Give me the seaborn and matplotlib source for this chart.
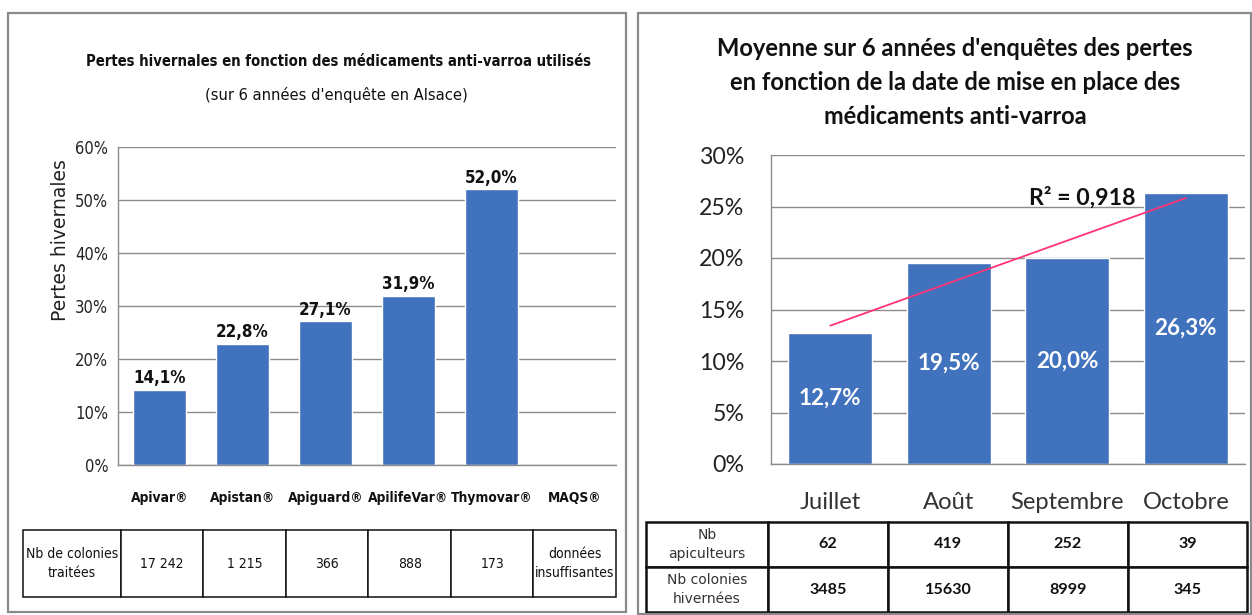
import numpy as np
import pandas as pd
import matplotlib
matplotlib.use("Agg")
import matplotlib.pyplot as plt
from matplotlib import font_manager
from matplotlib.ticker import MultipleLocator, FixedLocator, FuncFormatter
from matplotlib.patches import Rectangle
from matplotlib.container import BarContainer
import seaborn as sns

# ---------------- data ----------------
left_title = "Pertes hivernales en fonction des médicaments anti-varroa utilisés"
left_subtitle = "(sur 6 années d'enquête en Alsace)"
left_ylabel = "Pertes hivernales"
products = ["Apivar®", "Apistan®", "Apiguard®", "ApilifeVar®", "Thymovar®", "MAQS®"]
product_losses = [14.1, 22.8, 27.1, 31.9, 52.0, np.nan]
left_table_header = "Nb de colonies\ntraitées"
left_table_values = ["17 242", "1 215", "366", "888", "173", "données\ninsuffisantes"]

right_title_lines = ["Moyenne sur 6 années d'enquêtes des pertes",
                     "en fonction de la date de mise en place des",
                     "médicaments anti-varroa"]
months = ["Juillet", "Août", "Septembre", "Octobre"]
month_losses = [12.7, 19.5, 20.0, 26.3]
r2_label = "R² = 0,918"
right_row_headers = ["Nb\napiculteurs", "Nb colonies\nhivernées"]
nb_apiculteurs = ["62", "419", "252", "39"]
nb_colonies = ["3485", "15630", "8999", "345"]

# ---------------- style ----------------
sns.set_theme(style="white")
ttf = font_manager.fontManager.ttflist
names = {f.name for f in ttf}
cond = [f for f in ttf if ("Narrow" in f.name or "Condensed" in f.name
                            or str(f.stretch) in ("condensed", "semi-condensed", "extra-condensed"))]
if cond:
    NARROW = cond[0].name
    NSTRETCH = "condensed"
else:
    NARROW = "Roboto" if "Roboto" in names else "Liberation Sans"
    NSTRETCH = "normal"
CAL = "Lato" if "Lato" in names else "DejaVu Sans"
plt.rcParams["font.family"] = [CAL, "DejaVu Sans"]

W, H = 1252, 615
fig = plt.figure(figsize=(W / 100, H / 100), dpi=100)
fig.patch.set_facecolor("white")
renderer = fig.canvas.get_renderer()
NF = dict(family=NARROW, fontstretch=NSTRETCH)


def fit(s, target_px, **kw):
    """font size (pt) giving the text s roughly the reference's pixel width"""
    t = fig.text(0, 0, s, fontsize=10, **kw)
    w = t.get_window_extent(renderer).width
    t.remove()
    return 10 * target_px / w


title_fs = fit(left_title, 500, fontweight="bold", **NF)
sub_fs = fit(left_subtitle, 262, **NF)
xlab_fs = fit("ApilifeVar®", 80, fontweight="bold", **NF)
ytick_fs = fit("60%", 33, **NF)
val_fs = fit("52,0%", 53, fontweight="bold", **NF)
tab_fs = fit("Nb de colonies", 92, **NF)
rtitle_fs = fit(right_title_lines[0], 480, fontweight="bold")
ck = rtitle_fs / 17.0

BAR = "#4172BD"
GRID = "#8c8c8c"


def fbox(x0, y_top, x1, y_bot):
    return [x0 / W, 1 - y_bot / H, (x1 - x0) / W, (y_bot - y_top) / H]


# panel frames
fig.patches.append(Rectangle((8 / W, 1 - 612 / H), (626 - 8) / W, (612 - 13) / H,
                             transform=fig.transFigure, fill=False, ec="#8a8a8a", lw=1.6))
fig.patches.append(Rectangle((638 / W, 1 - 614 / H), (1251 - 638) / W, (614 - 13) / H,
                             transform=fig.transFigure, fill=False, ec="#8a8a8a", lw=1.6))

pct = FuncFormatter(lambda v, p: f"{int(round(v))}%")

# ---------------- left chart ----------------
ax1 = fig.add_axes(fbox(118, 147, 616, 465))
df1 = pd.DataFrame({"produit": products, "pertes": product_losses})
sns.barplot(data=df1, x="produit", y="pertes", order=products, color=BAR,
            saturation=1, width=0.65, ax=ax1)
ax1.set_xlim(-0.5, len(products) - 0.5)
ax1.set_ylim(0, 60)
ax1.yaxis.set_major_locator(MultipleLocator(10))
ax1.yaxis.set_major_formatter(pct)
ax1.yaxis.grid(True, color=GRID, lw=1)
ax1.set_axisbelow(True)
for s in ["top", "right"]:
    ax1.spines[s].set_visible(False)
for s in ["left", "bottom"]:
    ax1.spines[s].set_color(GRID)
    ax1.spines[s].set_linewidth(1)
ax1.set_xlabel("")
ax1.set_ylabel(left_ylabel, family="DejaVu Sans", fontsize=13.5, color="#222222")
ax1.yaxis.set_label_coords((70 - 118) / 498, (465 - 240) / 318)
ax1.tick_params(axis="y", length=4, color=GRID, pad=3, labelcolor="#222222")
ax1.tick_params(axis="x", which="major", length=0, pad=19)
ax1.xaxis.set_minor_locator(FixedLocator(np.arange(-0.5, len(products), 1)))
ax1.tick_params(axis="x", which="minor", length=5, color=GRID)
for lab in ax1.get_yticklabels():
    lab.set_family(NARROW)
    lab.set_stretch(NSTRETCH)
    lab.set_fontsize(ytick_fs)
for lab in ax1.get_xticklabels():
    lab.set_family(NARROW)
    lab.set_stretch(NSTRETCH)
    lab.set_fontweight("bold")
    lab.set_fontsize(xlab_fs)
    lab.set_color("#111111")
valid_bars = [p for p in ax1.patches if isinstance(p, Rectangle)]
valid_vals = [v for v in product_losses if not np.isnan(v)]
labels1 = [f"{v:.1f}%".replace(".", ",") for v in valid_vals]
ax1.bar_label(BarContainer(valid_bars, datavalues=valid_vals, orientation="vertical"),
              labels=labels1, padding=2, fontweight="bold", fontsize=val_fs,
              color="#111111", **NF)

fig.text(338 / W, 1 - 61 / H, left_title, ha="center", va="center",
         fontweight="bold", fontsize=title_fs, color="#111111", **NF)
fig.text(336 / W, 1 - 95 / H, left_subtitle, ha="center", va="center",
         fontsize=sub_fs, color="#111111", **NF)

# left table
x0t, x1t = 23, 616
yt, yb = 530, 597
ax_w, ax_h = 616 - 118, 465 - 147
bbox1 = [(x0t - 118) / ax_w, (465 - yb) / ax_h, (x1t - x0t) / ax_w, (yb - yt) / ax_h]
tab1 = ax1.table(cellText=[[left_table_header] + left_table_values],
                 colWidths=[98] + [(x1t - 121) / 6] * 6, cellLoc="center", bbox=bbox1)
tab1.auto_set_font_size(False)
for (r, c), cell in tab1.get_celld().items():
    cell.set_linewidth(1.1)
    cell.set_edgecolor("#111111")
    t = cell.get_text()
    t.set_family(NARROW)
    t.set_stretch(NSTRETCH)
    t.set_fontsize(tab_fs)
    t.set_color("#111111")
    t.set_linespacing(1.5)

# ---------------- right chart ----------------
ax2 = fig.add_axes(fbox(771, 155, 1245, 464))
df2 = pd.DataFrame({"mois": months, "pertes": month_losses})
sns.barplot(data=df2, x="mois", y="pertes", order=months, color=BAR,
            saturation=1, width=0.71, ax=ax2)
ax2.set_xlim(-0.5, len(months) - 0.5)
ax2.set_ylim(0, 30)
ax2.yaxis.set_major_locator(MultipleLocator(5))
ax2.yaxis.set_major_formatter(pct)
ax2.yaxis.grid(True, color=GRID, lw=1)
ax2.set_axisbelow(True)
for s in ["top", "right"]:
    ax2.spines[s].set_visible(False)
for s in ["left", "bottom"]:
    ax2.spines[s].set_color(GRID)
    ax2.spines[s].set_linewidth(1)
ax2.set_xlabel("")
ax2.set_ylabel("")
ax2.tick_params(axis="y", length=0, pad=19, labelsize=16.5 * ck, labelcolor="#222222")
ax2.tick_params(axis="x", length=0, pad=20, labelsize=17 * ck, labelcolor="#333333")

bars2 = [p for p in ax2.patches if isinstance(p, Rectangle)]
labels2 = [f"{v:.1f}%".replace(".", ",") for v in month_losses]
ax2.bar_label(BarContainer(bars2, datavalues=month_losses, orientation="vertical"),
              labels=labels2, label_type="center", fontweight="bold",
              fontsize=16 * ck, color="white")

# linear trend line computed from the data
xi = np.arange(len(months))
slope, intercept = np.polyfit(xi, month_losses, 1)
ax2.plot(xi, intercept + slope * xi, color="#ff3377", lw=1.3, zorder=5)
ax2.text(2.13, 25.9, r2_label, ha="center", va="center", fontweight="bold",
         fontsize=16.5 * ck, color="#111111", zorder=6)

for i, line in enumerate(right_title_lines):
    fig.text(955 / W, 1 - (48 + 34 * i) / H, line, ha="center", va="center",
             fontweight="bold", fontsize=rtitle_fs, color="#111111")

# right table
ax2_w, ax2_h = 1245 - 771, 464 - 155
rx0, rx1 = 646, 1247
ryt, ryb = 522, 612
bbox2 = [(rx0 - 771) / ax2_w, (464 - ryb) / ax2_h, (rx1 - rx0) / ax2_w, (ryb - ryt) / ax2_h]
cells2 = [[right_row_headers[0]] + nb_apiculteurs, [right_row_headers[1]] + nb_colonies]
tab2 = ax2.table(cellText=cells2, colWidths=[122, 120, 120, 120, 119],
                 cellLoc="center", bbox=bbox2)
tab2.auto_set_font_size(False)
for (r, c), cell in tab2.get_celld().items():
    cell.set_linewidth(1.8)
    cell.set_edgecolor("#111111")
    t = cell.get_text()
    if c == 0:
        t.set_family("DejaVu Sans")
        t.set_fontsize(10)
        t.set_color("#333333")
        t.set_linespacing(1.45)
    else:
        t.set_fontweight("bold")
        t.set_fontsize(11.5 * ck)
        t.set_color("#111111")

fig.savefig("out.png", dpi=100, facecolor="white")
